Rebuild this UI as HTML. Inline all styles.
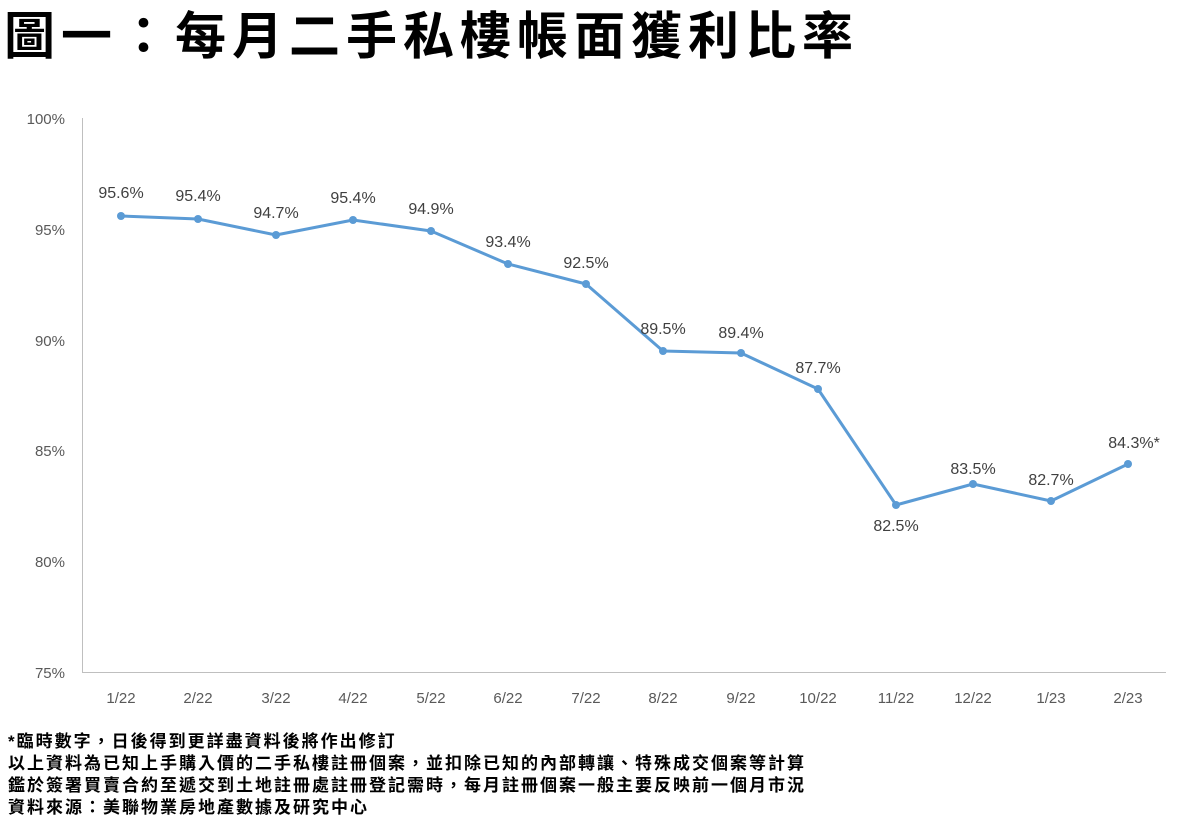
<!DOCTYPE html>
<html><head><meta charset="utf-8"><style>
body{margin:0;background:#fff;}
</style></head><body>
<svg width="1186" height="830" xmlns="http://www.w3.org/2000/svg" style="display:block">
<text x="4" y="54" font-family="Liberation Sans, Noto Sans CJK TC, sans-serif" font-weight="bold" font-size="51" letter-spacing="6" fill="#000">圖一：每月二手私樓帳面獲利比率</text>
<g font-family="Liberation Sans, sans-serif" font-size="15" fill="#595959" text-anchor="end">
<text x="65" y="124">100%</text><text x="65" y="235">95%</text><text x="65" y="346">90%</text>
<text x="65" y="456">85%</text><text x="65" y="567">80%</text><text x="65" y="678">75%</text>
</g>
<line x1="82.5" y1="118" x2="82.5" y2="672" stroke="#bfbfbf"/>
<line x1="82" y1="672.5" x2="1166" y2="672.5" stroke="#bfbfbf"/>
<g font-family="Liberation Sans, sans-serif" font-size="15" fill="#595959" text-anchor="middle">
<text x="121" y="703">1/22</text><text x="198" y="703">2/22</text><text x="276" y="703">3/22</text><text x="353" y="703">4/22</text><text x="431" y="703">5/22</text><text x="508" y="703">6/22</text><text x="586" y="703">7/22</text><text x="663" y="703">8/22</text><text x="741" y="703">9/22</text><text x="818" y="703">10/22</text><text x="896" y="703">11/22</text><text x="973" y="703">12/22</text><text x="1051" y="703">1/23</text><text x="1128" y="703">2/23</text>
</g>
<polyline fill="none" stroke="#5b9bd5" stroke-width="3" stroke-linejoin="round" points="121,216 198,219 276,235 353,220 431,231 508,264 586,284 663,351 741,353 818,389 896,505 973,484 1051,501 1128,464"/>
<g fill="#5b9bd5">
<circle cx="121" cy="216" r="4"/><circle cx="198" cy="219" r="4"/><circle cx="276" cy="235" r="4"/><circle cx="353" cy="220" r="4"/><circle cx="431" cy="231" r="4"/><circle cx="508" cy="264" r="4"/><circle cx="586" cy="284" r="4"/><circle cx="663" cy="351" r="4"/><circle cx="741" cy="353" r="4"/><circle cx="818" cy="389" r="4"/><circle cx="896" cy="505" r="4"/><circle cx="973" cy="484" r="4"/><circle cx="1051" cy="501" r="4"/><circle cx="1128" cy="464" r="4"/>
</g>
<g font-family="Liberation Sans, sans-serif" font-size="16" fill="#404040" text-anchor="middle">
<text x="121" y="198">95.6%</text><text x="198" y="201">95.4%</text><text x="276" y="218">94.7%</text><text x="353" y="203">95.4%</text><text x="431" y="214">94.9%</text><text x="508" y="247">93.4%</text><text x="586" y="268">92.5%</text><text x="663" y="334">89.5%</text><text x="741" y="338">89.4%</text><text x="818" y="373">87.7%</text><text x="896" y="531">82.5%</text><text x="973" y="474">83.5%</text><text x="1051" y="485">82.7%</text><text x="1134" y="448">84.3%*</text>
</g>
<g font-family="Liberation Sans, Noto Sans CJK TC, sans-serif" font-size="17" font-weight="bold" letter-spacing="2" fill="#000">
<text x="8" y="747">*臨時數字，日後得到更詳盡資料後將作出修訂</text>
<text x="8" y="769">以上資料為已知上手購入價的二手私樓註冊個案，並扣除已知的內部轉讓、特殊成交個案等計算</text>
<text x="8" y="791">鑑於簽署買賣合約至遞交到土地註冊處註冊登記需時，每月註冊個案一般主要反映前一個月市況</text>
<text x="8" y="813">資料來源：美聯物業房地產數據及研究中心</text>
</g>
</svg>
</body></html>
